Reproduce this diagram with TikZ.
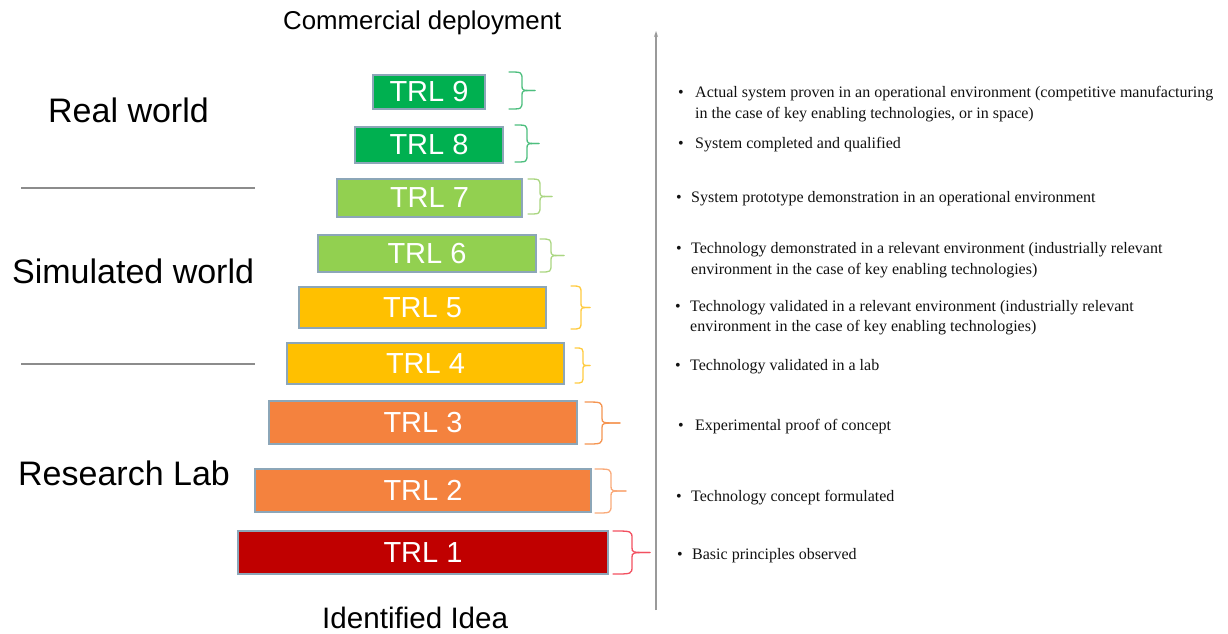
\documentclass[tikz,border=0pt]{standalone}
\usepackage{fontspec}
\setmainfont{Liberation Serif}
\newfontfamily\arialf{Liberation Sans}
\usetikzlibrary{arrows.meta}
\definecolor{trlA}{HTML}{00B050}
\definecolor{trlB}{HTML}{92D050}
\definecolor{trlC}{HTML}{FFC000}
\definecolor{trlD}{HTML}{F4823E}
\definecolor{trlE}{HTML}{C00000}
\definecolor{boxline}{HTML}{8CA6B8}
\definecolor{brA}{HTML}{4DBE7E}
\definecolor{brB}{HTML}{AAD681}
\definecolor{brC}{HTML}{FFCB40}
\definecolor{brD}{HTML}{F59552}
\definecolor{brE}{HTML}{F9AA7A}
\definecolor{brF}{HTML}{F25060}
\definecolor{sepline}{HTML}{8C8C8C}
\definecolor{axisgray}{HTML}{9A9A9A}
\definecolor{desctext}{HTML}{111111}
\newcommand\trlbrace[6]{%
  \pgfmathsetmacro\bym{(#5+#6)/2}%
  \draw[bracestyle,#1] (#2,#5) .. controls (#3,#5) .. (#3,#5+8) -- (#3,\bym-5) .. controls (#3,\bym) .. (#4,\bym);
  \draw[bracestyle,#1] (#2,#6) .. controls (#3,#6) .. (#3,#6-8) -- (#3,\bym+5) .. controls (#3,\bym) .. (#4,\bym);
}
\begin{document}
\begin{tikzpicture}[x=1pt,y=-1pt,
  trlbox/.style={draw=boxline, line width=1.3pt, inner sep=0pt, text=white,
    font=\arialf\fontsize{29}{29}\selectfont},
  desc/.style={anchor=base west, inner sep=0pt, text=desctext, font=\fontsize{16}{19}\selectfont},
  biglabel/.style={anchor=base west, inner sep=0pt, font=\arialf\fontsize{34}{34}\selectfont},
  endlabel/.style={anchor=base west, inner sep=0pt, font=\arialf\fontsize{25.8}{26}\selectfont},
  bracestyle/.style={line width=1.3pt, line cap=round},
  sep/.style={draw=sepline, line width=1.2pt}]
\useasboundingbox (0,0) rectangle (1228,633);

% titles
\node[endlabel] (top) at (283,29) {Commercial deployment};
\node[endlabel, font=\arialf\fontsize{29.6}{30}\selectfont] (bottom) at (322,628) {Identified Idea};

% left labels
\node[biglabel] (real) at (48,122) {Real world};
\node[biglabel] (sim) at (12,283) {Simulated world};
\node[biglabel] (lab) at (18,485) {Research Lab};
\coordinate (s1a) at (21,188); \coordinate (s1b) at (255,188);
\coordinate (s2a) at (21,364); \coordinate (s2b) at (255,364);
\draw[sep] (s1a) -- (s1b);
\draw[sep] (s2a) -- (s2b);

% TRL boxes
\node[trlbox, fill=trlA, minimum width=112pt, minimum height=34pt] (t9) at (429,92) {TRL 9};
\node[trlbox, fill=trlA, minimum width=148pt, minimum height=36pt] (t8) at (429,145) {TRL 8};
\node[trlbox, fill=trlB, minimum width=185pt, minimum height=38pt] (t7) at (429.5,198) {TRL 7};
\node[trlbox, fill=trlB, minimum width=218pt, minimum height=37pt] (t6) at (427,253.5) {TRL 6};
\node[trlbox, fill=trlC, minimum width=247pt, minimum height=41pt] (t5) at (422.5,307.5) {TRL 5};
\node[trlbox, fill=trlC, minimum width=277pt, minimum height=41pt] (t4) at (425.5,363.5) {TRL 4};
\node[trlbox, fill=trlD, minimum width=308pt, minimum height=43pt] (t3) at (423,422.5) {TRL 3};
\node[trlbox, fill=trlD, minimum width=336pt, minimum height=43pt] (t2) at (423,490.5) {TRL 2};
\node[trlbox, fill=trlE, minimum width=370pt, minimum height=43pt] (t1) at (423,552.5) {TRL 1};

% braces
\trlbrace{brA}{509}{522}{535}{72}{109}
\trlbrace{brA}{515}{527}{539}{125}{162}
\trlbrace{brB}{528}{540}{552}{179}{214}
\trlbrace{brB}{540}{551}{564}{239}{272}
\trlbrace{brC}{571}{581}{590}{286}{329}
\trlbrace{brC}{575}{583}{590}{348}{383}
\trlbrace{brD}{585}{602}{620}{402}{444}
\trlbrace{brE}{595}{611}{626}{469}{513}
\trlbrace{brF}{613}{632}{650}{531}{574}

% axis
\coordinate (axb) at (656,610);
\coordinate (axt) at (656,31);
\draw[draw=axisgray, line width=1.5pt, -{Stealth[length=6pt,width=4pt]}] (axb) -- (axt);

% descriptions
\node[desc] (b9) at (678,97) {\textbullet};
\node[desc] (d9a) at (695,97) {Actual system proven in an operational environment (competitive manufacturing};
\node[desc] (d9b) at (695,118) {in the case of key enabling technologies, or in space)};
\node[desc] (b8) at (678,148) {\textbullet};
\node[desc] (d8) at (695,148) {System completed and qualified};
\node[desc] (b7) at (676,202) {\textbullet};
\node[desc] (d7) at (691,202) {System prototype demonstration in an operational environment};
\node[desc] (b6) at (676,253) {\textbullet};
\node[desc] (d6a) at (691,253) {Technology demonstrated in a relevant environment (industrially relevant};
\node[desc] (d6b) at (691,274) {environment in the case of key enabling technologies)};
\node[desc] (b5) at (675,311) {\textbullet};
\node[desc] (d5a) at (690,311) {Technology validated in a relevant environment (industrially relevant};
\node[desc] (d5b) at (690,331) {environment in the case of key enabling technologies)};
\node[desc] (b4) at (675,370) {\textbullet};
\node[desc] (d4) at (690,370) {Technology validated in a lab};
\node[desc] (b3) at (678,430) {\textbullet};
\node[desc] (d3) at (695,430) {Experimental proof of concept};
\node[desc] (b2) at (676,501) {\textbullet};
\node[desc] (d2) at (691,501) {Technology concept formulated};
\node[desc] (b1) at (677,559) {\textbullet};
\node[desc] (d1) at (692,559) {Basic principles observed};
\end{tikzpicture}
\end{document}
